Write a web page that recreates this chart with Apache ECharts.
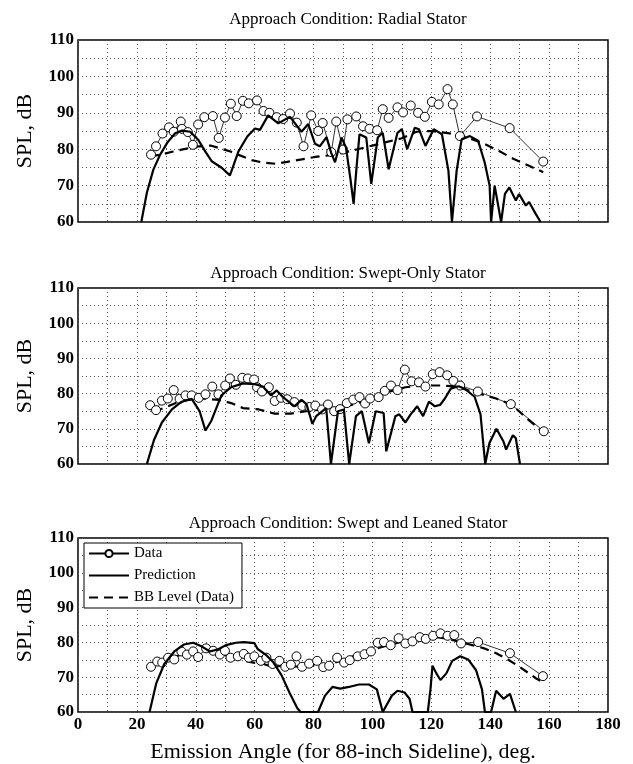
<!DOCTYPE html>
<html><head><meta charset="utf-8">
<script src="https://cdn.jsdelivr.net/npm/echarts@6/dist/echarts.min.js"></script>
<style>html,body{margin:0;padding:0;background:#fff}#c{width:633px;height:764px}</style>
</head><body><div id="c"></div>
<script>
const panelTitles = ['Approach Condition: Radial Stator','Approach Condition: Swept-Only Stator','Approach Condition: Swept and Leaned Stator'];
const xTickValues = [0,20,40,60,80,100,120,140,160,180];
const yTickValues = [60,70,80,90,100,110];

// Panel 1: Radial stator
const radialData = [[24.8,78.5],[26.5,80.8],[28.7,84.3],[30.9,86],[32.5,84.8],[34.9,87.6],[35.3,85.6],[37.3,84.7],[39,81.2],[40.8,86.8],[42.9,88.8],[45.8,89.1],[47.8,83.1],[49.9,88.7],[51.9,92.5],[53.9,89.1],[56,93.3],[58,92.6],[60.8,93.4],[63,90.5],[65,90],[67.5,88.8],[69.7,88.3],[72,89.8],[74.3,87.3],[76.6,80.8],[79.2,89.3],[81.6,85],[83.1,87.2],[86,79.2],[87.7,87.6],[90,79.9],[91.5,88.2],[94.5,89],[96.8,86.3],[99,85.6],[101.6,85.2],[103.5,91],[105.5,88.6],[108.5,91.5],[110.4,90.1],[113,92],[115.5,90],[117.8,88.9],[120.2,93],[122.5,92.3],[125.5,96.5],[127.3,92.3],[129.7,83.6],[135.5,89],[146.6,85.8],[158,76.6]];
const radialPred = [[21.5,60],[23.4,68.1],[25.6,74.4],[27.9,78.5],[30.5,82],[33,84.4],[35.3,85.1],[38.1,84.8],[40.9,82.5],[43.2,79.4],[45.4,76.7],[48.8,74.9],[51.6,72.8],[54.5,79.4],[57.5,83.5],[60.1,85.7],[61.8,85.3],[64.6,89.3],[68,87.1],[72,88.9],[75.9,84.8],[78.2,86.9],[80.5,81.5],[82.1,80.8],[84.4,83.3],[86,79],[87.3,76.4],[89.5,83.2],[91,80.5],[92.5,72],[93.6,65],[94.6,75],[95.6,84.1],[97.9,83.2],[99.6,70.5],[101.8,83.2],[103.5,84.5],[105.5,74.5],[108.5,84.5],[110,85.5],[111.8,80],[114.4,85.9],[115.8,85.5],[118,80.9],[120.8,85.5],[123.6,84.1],[125.8,74.1],[127,60],[128.6,74.1],[130.3,82.7],[133.1,83.6],[135.9,82.3],[138.1,76.4],[139.8,70],[140.3,60],[141.5,70],[143.7,60],[145,67.7],[146.5,69.5],[148.7,65.9],[149.8,67.7],[152.1,64.5],[153.2,65.5],[155.4,62.3],[157.1,60]];
const radialBB = [[24.5,78],[28,78.5],[32,79.3],[36,80],[40,80.7],[45,81],[48,80.3],[52,79.3],[55,78.3],[59,77],[63,76.3],[67,76],[71,76.5],[76,77.2],[80,77.8],[85,78.3],[90,79],[95,80],[100,81],[105,82],[110,83],[115,84.8],[120,85],[125,84.5],[129,84],[133,83],[138,81.5],[143,79.5],[148,77.3],[153,75.5],[158,73.7]];

// Panel 2: Swept-only stator
const sweptData = [[24.5,76.7],[26.5,75.3],[28.5,78],[30.5,78.6],[32.5,81],[34.5,78.5],[36.5,79.5],[38.6,79.5],[41,78.8],[43.3,79.8],[45.6,82],[47.7,79.8],[50,82.3],[51.6,84.3],[53.6,82.5],[55.8,84.5],[57.7,84.3],[59.8,84],[60.8,81.8],[62.5,80.6],[64.8,81.8],[66.8,77.9],[69,78.8],[71.1,78.4],[73.5,77.6],[76.2,76.5],[78.6,76.2],[80.6,76.6],[82.9,75.5],[84.9,76.9],[87,75],[89,75.6],[91.3,77.3],[93.5,78.3],[95.6,79],[97.5,77.2],[99.2,78.6],[102.1,79],[104.2,80.8],[106.3,82.3],[108.5,81],[111,86.8],[113.3,83.5],[115.8,83.2],[118,82],[120.5,85.5],[122.8,86.1],[125.4,85.2],[127.5,83.6],[129.8,82.3],[135.8,80.6],[147,77],[158.2,69.3]];
const sweptPred = [[23.4,60],[25.8,66.8],[28.5,71.8],[31.9,75.5],[35.2,77.7],[38.6,78.5],[41.3,75],[43.3,69.5],[45.3,72.3],[48.7,79.5],[52,81.8],[56,82.9],[60.1,82.7],[62.8,82],[65.5,79.5],[67.5,80.9],[69.5,79.1],[71.5,77.7],[73.5,76.4],[75.9,78.2],[77.6,77],[79.6,71.4],[80.9,73.6],[84.3,75.9],[85.9,60],[88.3,75],[90.3,75.5],[92.1,60],[94.4,73.6],[96.4,75],[98.8,65.9],[101.1,75],[103.8,74.5],[104.7,63.6],[107.8,73.6],[109.1,74.1],[111.2,71.8],[112.8,73.9],[115.2,76.4],[117.2,73.6],[119.2,77.7],[121.2,76.4],[123,76.8],[124.6,78.6],[126.6,81.4],[129.3,82.1],[131.3,81.4],[134.7,79.1],[136.7,74.1],[138.3,60],[139.7,65.9],[142.1,70],[144.5,66.4],[145.4,64.1],[147.7,68.2],[148.7,67.3],[150.1,60]];
const sweptBB = [[25.8,75],[29.2,75.9],[33.2,77.3],[37.2,78.2],[42.6,78.6],[48,78.2],[52,77.3],[56,75.9],[61.4,75.5],[66.8,74.3],[72.2,74.3],[77.6,75],[82.9,75.5],[87.6,75.7],[92.3,76.6],[96.4,77.7],[101.7,79.5],[107.1,80.9],[111.2,81.8],[116.5,82.3],[123.3,82.3],[128.6,82],[134,80.5],[142,78.6],[147.4,76.8],[152.8,72.7],[158,69.1]];

// Panel 3: Swept and leaned stator
const leanedData = [[24.8,73],[26.9,74.5],[28.6,74.2],[30.6,75.6],[32.7,75.1],[35.1,77.4],[37,76.5],[39.1,77.4],[40.8,75.8],[43.5,78.3],[45.9,77.6],[48.2,76.5],[49.9,77.6],[51.8,75.6],[54.3,76],[56.3,76.7],[58,75.6],[59.9,76],[62.1,74.7],[64,75.6],[66.1,73.8],[68.4,74.7],[70.4,73],[72.3,73.6],[74.2,76],[76.1,73],[78.5,73.9],[81.2,74.7],[83.3,72.9],[85.3,73.3],[88,75.6],[90.4,74.2],[92.3,74.9],[95,76],[97.3,76.6],[99.5,77.4],[101.8,79.9],[103.9,80.1],[106.2,79.2],[108.9,81.2],[111.2,79.7],[113.6,80.3],[116.1,81.5],[118.1,81],[120.6,81.9],[123.1,82.6],[125.5,81.9],[127.8,82.1],[130.1,79.7],[135.9,80.1],[146.7,76.9],[157.9,70.3]];
const leanedPred = [[24.3,60],[26.6,68.3],[29.3,73.8],[32.7,77.4],[36,79.4],[39.1,79.9],[42.1,78.8],[44.8,77.4],[47.5,78],[50.2,79.2],[53.6,79.9],[56.3,80.1],[59.9,79.8],[61,78.1],[63.7,76.5],[66.4,74.2],[69.1,70.6],[71.8,65.6],[74.5,61.1],[75.6,60],[81.5,60],[83.9,64.7],[86.4,67.2],[89.1,66.7],[92,67.2],[95.4,67.9],[98.8,67.9],[101.5,66.5],[103.5,60],[106.6,64.7],[108.5,66.1],[110.9,65.6],[112.6,63.8],[113.6,60],[118.8,60],[119.7,66.5],[120.4,73.3],[121.7,71.1],[123.1,69.2],[125.1,71.1],[127.1,74.7],[129.8,76],[132.5,75.1],[135.2,72],[137.2,66.5],[138.2,60],[140.3,60],[142,66.1],[144.5,63.8],[146.7,65.2],[148.7,60]];
const leanedBB = [[27.9,73.8],[31.3,75.1],[35.4,76.7],[39.4,77.2],[43.5,77.6],[47.5,76.9],[51.6,76],[55.6,74.9],[59.6,74.2],[63,73.8],[66.4,72.9],[69.1,73.3],[73,73],[77,73.2],[81,73.5],[85.3,73.8],[89.3,74.7],[93.4,76],[97.4,76.9],[101.5,78.3],[105.5,79.2],[109.6,80.1],[113.6,81],[117.7,81.5],[121.7,81.5],[125.8,81],[129.8,80.1],[133.9,79.2],[137.9,78.3],[142,76.9],[146,75.1],[150.1,72.9],[155.5,69.7],[158,68.5]];

const panels = [
  {data: radialData, pred: radialPred, bb: radialBB},
  {data: sweptData, pred: sweptPred, bb: sweptBB},
  {data: leanedData, pred: leanedPred, bb: leanedBB}
];
const gridTops = [40, 288, 538];
const gridHeights = [182, 176, 180];
const titleTops = [6, 260, 510];
const FONT = '"Liberation Serif", "DejaVu Serif", serif';

const chart = echarts.init(document.getElementById('c'), null, {renderer: 'canvas'});
const option = {
  animation: false,
  backgroundColor: '#fff',
  title: panelTitles.map((t, i) => ({
    text: t, left: 343, top: titleTops[i], textAlign: 'center',
    textStyle: {fontFamily: FONT, fontSize: 17, fontWeight: 'normal', color: '#000'}
  })),
  grid: gridTops.map((t, i) => ({left: 78, width: 530, top: t, height: gridHeights[i], show: true, borderColor: '#000', borderWidth: 1.5, backgroundColor: 'transparent'})),
  xAxis: gridTops.map((t, i) => ({
    gridIndex: i, type: 'value', min: 0, max: 180, interval: 10,
    axisLine: {show: false}, axisTick: {show: false},
    axisLabel: {show: i === 2, fontFamily: FONT, fontSize: 17, fontWeight: 'bold', color: '#000', margin: 4,
      formatter: v => (xTickValues.indexOf(v) >= 0 ? String(v) : '')},
    splitLine: {show: true, lineStyle: {type: [1, 3], color: '#555', width: 1}},
    name: i === 2 ? 'Emission Angle (for 88-inch Sideline), deg.' : '',
    nameLocation: 'middle', nameGap: 29,
    nameTextStyle: {fontFamily: FONT, fontSize: 22, color: '#000'}
  })),
  yAxis: gridTops.map((t, i) => ({
    gridIndex: i, type: 'value', min: 60, max: 110, interval: 5,
    axisLine: {show: false}, axisTick: {show: false},
    axisLabel: {fontFamily: FONT, fontSize: 17, fontWeight: 'bold', color: '#000', margin: 4,
      formatter: v => (yTickValues.indexOf(v) >= 0 ? String(v) : '')},
    splitLine: {show: true, lineStyle: {type: [1, 3], color: '#555', width: 1}},
    name: 'SPL, dB', nameLocation: 'middle', nameGap: 42, nameRotate: 90,
    nameTextStyle: {fontFamily: FONT, fontSize: 22, color: '#000'}
  })),
  legend: {
    orient: 'vertical', left: 84, top: 543, itemWidth: 40, itemHeight: 9, itemGap: 7,
    backgroundColor: '#fff', borderColor: '#000', borderWidth: 1, padding: [3, 8, 3, 4],
    textStyle: {fontFamily: FONT, fontSize: 15, color: '#000'},
    data: [
      {name: 'Data'},
      {name: 'Prediction', itemStyle: {color: 'rgba(0,0,0,0)', borderColor: 'rgba(0,0,0,0)', borderWidth: 0}},
      {name: 'BB Level (Data)', itemStyle: {color: 'rgba(0,0,0,0)', borderColor: 'rgba(0,0,0,0)', borderWidth: 0}}
    ]
  },
  series: []
};
panels.forEach((p, i) => {
  option.series.push({
    name: 'BB Level (Data)', type: 'line', xAxisIndex: i, yAxisIndex: i, data: p.bb,
    showSymbol: false, symbol: 'none', lineStyle: {color: '#000', width: 2.2, type: [9, 6]}, itemStyle: {color: '#000'}, z: 3
  });
  option.series.push({
    name: 'Data', type: 'line', xAxisIndex: i, yAxisIndex: i, data: p.data,
    symbol: 'circle', symbolSize: 9, lineStyle: {color: '#000', width: 0.8},
    itemStyle: {color: '#fff', borderColor: '#000', borderWidth: 1}, z: 4
  });
  option.series.push({
    name: 'Prediction', type: 'line', xAxisIndex: i, yAxisIndex: i, data: p.pred,
    showSymbol: false, symbol: 'none', lineStyle: {color: '#000', width: 2.2}, itemStyle: {color: '#000'}, z: 5
  });
});
chart.setOption(option);
</script></body></html>
